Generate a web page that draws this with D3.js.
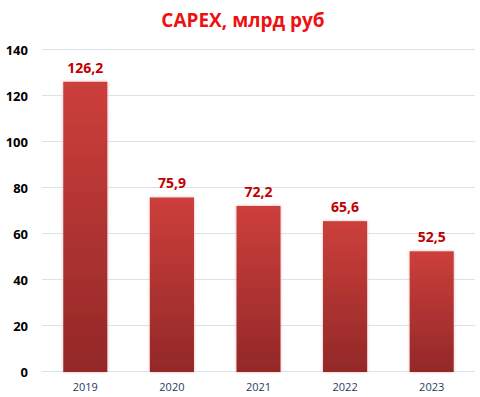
<!DOCTYPE html>
<html>
<head>
<meta charset="utf-8">
<script src="https://cdn.jsdelivr.net/npm/d3@7"></script>
<style>
  body { margin: 0; background: #fff; }
  svg { display: block; font-family: "Open Sans", "Liberation Sans", sans-serif; }
</style>
</head>
<body>
<div id="chart"></div>
<script>
const years = ["2019", "2020", "2021", "2022", "2023"];
const capex = [126.2, 75.9, 72.2, 65.6, 52.5];
const yTicks = [0, 20, 40, 60, 80, 100, 120, 140];

const width = 480, height = 397;
const margin = {top: 50, right: 5, bottom: 25, left: 42};
const plotW = width - margin.left - margin.right;
const plotH = height - margin.top - margin.bottom;

const svg = d3.select("#chart").append("svg")
    .attr("width", width)
    .attr("height", height);

const defs = svg.append("defs");
const grad = defs.append("linearGradient")
    .attr("id", "barGrad")
    .attr("x1", 0).attr("y1", 0).attr("x2", 0).attr("y2", 1);
grad.append("stop").attr("offset", "0%").attr("stop-color", "#cc3f3b");
grad.append("stop").attr("offset", "100%").attr("stop-color", "#932828");

const glow = defs.append("filter").attr("id", "glow")
    .attr("x", "-20%").attr("y", "-5%").attr("width", "140%").attr("height", "110%");
glow.append("feGaussianBlur").attr("in", "SourceAlpha").attr("stdDeviation", 1.5).attr("result", "b");
glow.append("feFlood").attr("flood-color", "#f4b0b0");
glow.append("feComposite").attr("in2", "b").attr("operator", "in");
const fm = glow.append("feMerge");
fm.append("feMergeNode");
fm.append("feMergeNode").attr("in", "SourceGraphic");

const g = svg.append("g")
    .attr("transform", "translate(" + margin.left + "," + margin.top + ")");

const x = d3.scaleBand()
    .domain(years)
    .range([0, plotW])
    .paddingInner(0.49)
    .paddingOuter(0.245);

const y = d3.scaleLinear()
    .domain([0, 140])
    .range([plotH, 0]);

// gridlines
g.append("g")
    .selectAll("line")
    .data(yTicks)
    .enter().append("line")
    .attr("x1", 0)
    .attr("x2", plotW)
    .attr("y1", d => y(d) - 0.5)
    .attr("y2", d => y(d) - 0.5)
    .attr("stroke", "#d9e2ef")
    .attr("stroke-width", 1);

// y axis
const yAxis = g.append("g")
    .call(d3.axisLeft(y).tickValues(yTicks).tickSize(0).tickPadding(14));
yAxis.select(".domain").remove();
yAxis.selectAll("text")
    .attr("font-size", 13)
    .attr("font-weight", "bold")
    .attr("fill", "#000")
    .attr("font-family", "'Open Sans', 'Liberation Sans', sans-serif");

// x axis
const xAxis = g.append("g")
    .attr("transform", "translate(0," + plotH + ")")
    .call(d3.axisBottom(x).tickSize(0).tickPadding(11));
xAxis.select(".domain").remove();
xAxis.selectAll("text")
    .attr("font-size", 11)
    .attr("fill", "#1f3a60")
    .attr("font-family", "'Open Sans', 'Liberation Sans', sans-serif");

// bars
g.selectAll(".bar")
    .data(capex)
    .enter().append("rect")
    .attr("class", "bar")
    .attr("x", (d, i) => x(years[i]))
    .attr("width", x.bandwidth())
    .attr("y", d => y(d))
    .attr("height", d => plotH - y(d))
    .attr("fill", "url(#barGrad)")
    .attr("filter", "url(#glow)");

// value labels
g.selectAll(".label")
    .data(capex)
    .enter().append("text")
    .attr("class", "label")
    .attr("x", (d, i) => x(years[i]) + x.bandwidth() / 2)
    .attr("y", d => y(d) - 9)
    .attr("text-anchor", "middle")
    .attr("font-size", 14)
    .attr("font-weight", "bold")
    .attr("fill", "#c00000")
    .text(d => d.toFixed(1).replace(".", ","));

// title
svg.append("text")
    .attr("x", 243)
    .attr("y", 27)
    .attr("text-anchor", "middle")
    .attr("font-size", 19)
    .attr("font-weight", "bold")
    .attr("fill", "#ee1111")
    .text("CAPEX, млрд руб");
</script>
</body>
</html>
